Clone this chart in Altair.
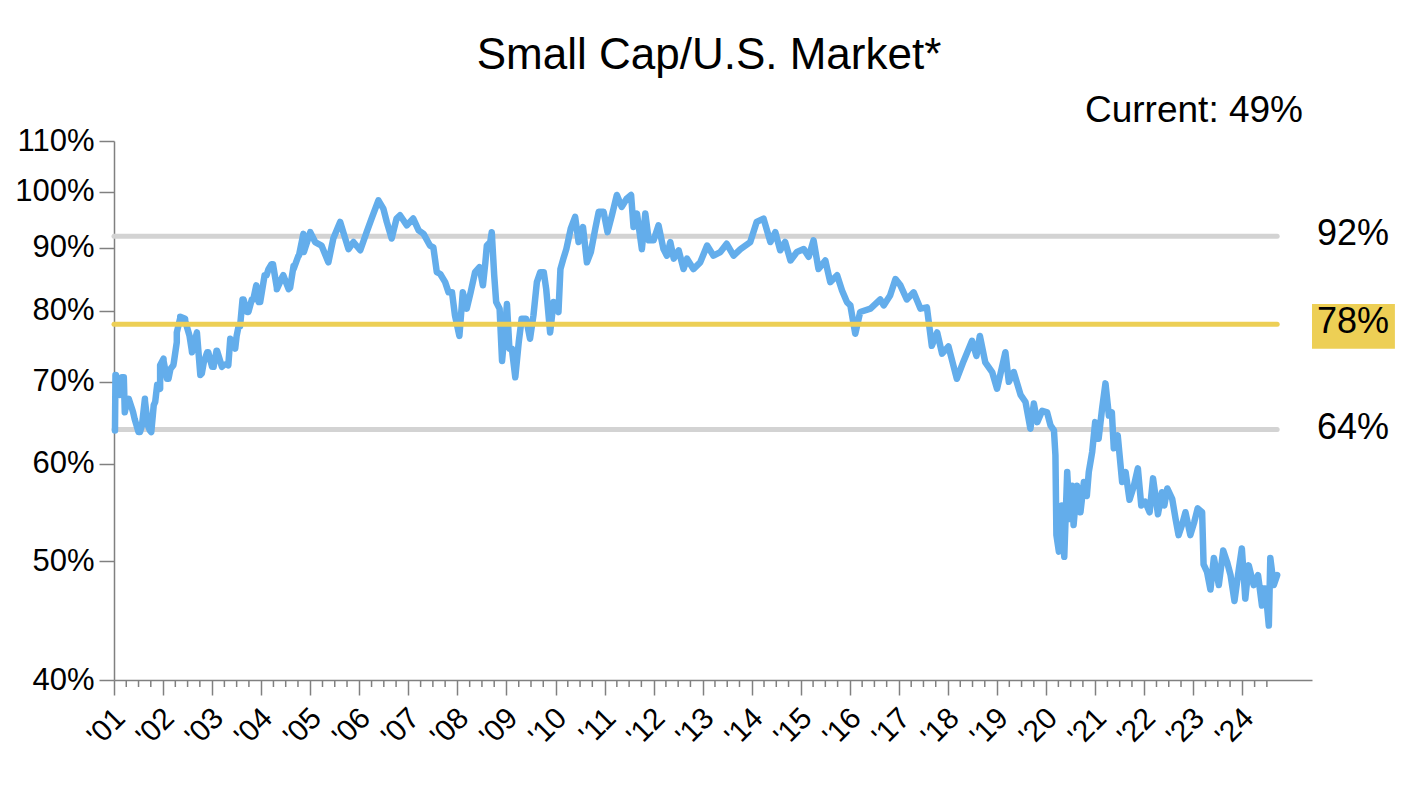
import altair as alt
import pandas as pd

TITLE = "Small Cap/U.S. Market*"
CURRENT_LABEL = "Current: 49%"

# ---- series readings (decimal year, ratio in %), several passes over the picture ----
years_a = [2001.02, 2001.04, 2001.12, 2001.20, 2001.26, 2001.39, 2001.53, 2001.63, 2001.73, 2001.84,
           2001.94, 2002.01, 2002.11, 2002.21, 2002.28, 2002.35, 2002.45, 2002.58, 2002.69, 2002.79,
           2002.92, 2003.03, 2003.09, 2003.23, 2003.33, 2003.37, 2003.50, 2003.57, 2003.64, 2003.74,
           2003.84, 2003.91, 2003.98, 2004.11, 2004.21, 2004.32, 2004.45, 2004.59, 2004.66, 2004.76,
           2004.86, 2005.00, 2005.10, 2005.23, 2005.37, 2005.47, 2005.61, 2005.78, 2005.88, 2006.02,
           2006.15, 2006.25, 2006.39, 2006.49, 2006.56, 2006.66, 2006.76, 2006.83, 2006.97, 2007.10,
           2007.21, 2007.31, 2007.44, 2007.51, 2007.58]
ratio_a = [63.9, 70.9, 68.3, 70.6, 67.4, 66.1, 63.7, 67.8, 63.9, 67.4,
           69.1, 73.1, 70.4, 72.2, 75.4, 78.9, 78.8, 74.5, 76.8, 71.1,
           74.0, 72.0, 74.2, 72.2, 72.2, 75.9, 76.3, 77.7, 81.7, 79.8,
           81.7, 83.5, 81.3, 85.5, 87.3, 83.5, 85.5, 83.5, 87.0, 88.7,
           92.4, 92.7, 91.0, 90.4, 87.6, 91.6, 94.5, 89.8, 91.0, 89.6,
           92.7, 95.1, 98.4, 96.9, 94.5, 91.6, 95.1, 95.7, 93.9, 95.1,
           93.0, 92.4, 90.4, 90.1, 86.0]

years_e = [2001.03, 2001.10, 2001.16, 2001.22, 2001.30, 2001.37, 2001.42, 2001.50, 2001.57, 2001.63,
           2001.69, 2001.76, 2001.81, 2001.88, 2001.94, 2002.01, 2002.08, 2002.15, 2002.22, 2002.28,
           2002.35, 2002.45, 2002.54, 2002.59, 2002.69, 2002.76, 2002.83, 2002.90, 2003.00, 2003.10,
           2003.20, 2003.30, 2003.37, 2003.47, 2003.54, 2003.62, 2003.71, 2003.81, 2003.90, 2003.95,
           2004.07, 2004.15, 2004.24, 2004.32, 2004.43, 2004.56, 2004.66, 2004.77, 2004.87]
ratio_e = [70.9, 68.7, 70.6, 66.1, 67.8, 66.5, 65.3, 63.7, 64.5, 67.6,
           64.5, 63.7, 67.0, 69.6, 72.2, 72.8, 70.4, 71.7, 72.6, 76.8,
           79.1, 78.5, 76.3, 74.0, 76.8, 70.9, 72.6, 74.0, 72.0, 74.2,
           72.0, 72.4, 75.9, 74.5, 77.7, 81.7, 79.8, 81.7, 83.9, 81.3,
           85.5, 86.5, 87.3, 83.3, 85.2, 83.3, 86.5, 88.7, 89.3]

years_f = [2007.65, 2007.75, 2007.82, 2007.89, 2007.95, 2008.04, 2008.11, 2008.19, 2008.27, 2008.36,
           2008.45, 2008.52, 2008.57, 2008.60, 2008.67, 2008.70, 2008.75, 2008.79, 2008.86, 2008.91,
           2008.97, 2009.01, 2009.06, 2009.11, 2009.18, 2009.25, 2009.31, 2009.40, 2009.48, 2009.55,
           2009.62, 2009.69, 2009.76, 2009.81, 2009.89, 2009.96, 2010.06, 2010.10, 2010.16, 2010.22,
           2010.31, 2010.40, 2010.47, 2010.56, 2010.64, 2010.72, 2010.81, 2010.88, 2010.98, 2011.06,
           2011.15, 2011.25, 2011.35, 2011.45, 2011.54, 2011.59, 2011.66, 2011.76, 2011.83, 2011.90,
           2012.00, 2012.10, 2012.20, 2012.27, 2012.34, 2012.41, 2012.51]
ratio_f = [85.7, 84.4, 82.8, 82.8, 79.3, 76.3, 82.8, 80.3, 82.8, 86.0,
           86.8, 83.9, 87.6, 90.4, 91.0, 92.7, 85.5, 81.3, 80.3, 72.8,
           77.3, 81.0, 74.5, 74.5, 70.6, 75.4, 78.8, 78.8, 75.9, 79.3,
           84.4, 86.0, 86.0, 83.3, 76.8, 81.3, 79.8, 86.5, 88.2, 89.8,
           93.3, 95.4, 91.0, 93.6, 87.6, 89.3, 93.3, 96.3, 96.3, 92.7,
           95.7, 99.4, 97.2, 98.7, 99.4, 93.6, 96.0, 89.8, 96.0, 91.3,
           91.3, 93.9, 89.8, 88.7, 91.0, 88.2, 89.6]

years_b = [2012.61, 2012.68, 2012.81, 2012.95, 2013.09,
           2013.22, 2013.36, 2013.49, 2013.63, 2013.77, 2013.97, 2014.10, 2014.24, 2014.38, 2014.48,
           2014.58, 2014.68, 2014.79, 2014.92, 2015.06, 2015.16, 2015.26, 2015.36, 2015.50, 2015.60,
           2015.74, 2015.84, 2015.94, 2016.01, 2016.11, 2016.21, 2016.42, 2016.62, 2016.69, 2016.82,
           2016.93]
ratio_b = [86.5, 88.2, 86.5, 87.6, 90.4,
           88.7, 89.3, 90.7, 88.7, 89.8, 91.0, 94.5, 95.1, 91.0, 92.7,
           89.6, 91.0, 87.9, 89.3, 89.8, 88.5, 91.3, 86.5, 87.9, 84.4,
           85.5, 83.1, 81.3, 80.8, 76.6, 79.8, 80.3, 81.7, 80.8, 82.3,
           84.9]

years_c = [2017.03, 2017.16, 2017.30, 2017.44, 2017.57, 2017.67, 2017.78, 2017.88, 2018.01, 2018.18,
           2018.32, 2018.49, 2018.58, 2018.65, 2018.76, 2018.90, 2019.00, 2019.17, 2019.24, 2019.34,
           2019.48, 2019.58, 2019.68, 2019.75, 2019.82]
ratio_c = [83.9, 81.7, 82.8, 80.3, 80.5, 74.9, 76.8, 73.8, 74.8, 70.4,
           72.8, 75.6, 73.5, 76.3, 72.6, 71.3, 69.1, 74.0, 70.0, 71.3,
           68.3, 67.4, 64.1, 67.2, 64.9]

years_d = [2019.92, 2020.02, 2020.09, 2020.16, 2020.19, 2020.21, 2020.26, 2020.32, 2020.37, 2020.43,
           2020.48, 2020.53, 2020.56, 2020.63, 2020.70, 2020.77, 2020.83, 2020.87, 2020.94, 2021.00,
           2021.07, 2021.14, 2021.21, 2021.28, 2021.34, 2021.38, 2021.46, 2021.55, 2021.62, 2021.70,
           2021.79, 2021.87, 2021.94, 2022.02, 2022.11, 2022.18, 2022.28, 2022.36, 2022.41, 2022.47,
           2022.57, 2022.64, 2022.70, 2022.77, 2022.84, 2022.94, 2023.02, 2023.09, 2023.18, 2023.21,
           2023.28, 2023.35, 2023.42, 2023.52, 2023.61, 2023.69, 2023.76, 2023.84, 2023.93, 2023.99,
           2024.06, 2024.13, 2024.23, 2024.32, 2024.40, 2024.42, 2024.47, 2024.54, 2024.57, 2024.64,
           2024.71]
ratio_d = [66.3, 66.1, 64.5, 63.9, 61.0, 52.5, 50.9, 55.5, 50.4, 59.1,
           54.1, 57.6, 53.5, 57.6, 54.8, 58.0, 56.5, 59.1, 61.4, 64.9,
           62.9, 66.5, 69.8, 65.7, 66.1, 61.8, 63.3, 58.0, 59.1, 56.1,
           57.6, 59.5, 55.5, 55.9, 54.8, 58.4, 54.6, 56.9, 55.5, 57.3,
           56.2, 54.1, 52.5, 53.5, 54.8, 52.5, 53.8, 55.2, 54.8, 49.7,
           49.0, 47.4, 50.3, 47.8, 51.0, 49.9, 48.7, 46.4, 49.3, 51.2,
           46.6, 49.6, 47.8, 48.7, 46.0, 47.5, 47.5, 44.3, 50.3, 47.8,
           48.7]

# ---- reference levels ----
ref_levels = [92, 78, 64]
ref_labels = ["92%", "78%", "64%"]

# ---- axes ----
year_ticks = list(range(2001, 2025))
quarter_ticks = [y + q for y in range(2001, 2025) for q in (0.25, 0.5, 0.75) if y + q <= 2024.5]
y_ticks = [40, 50, 60, 70, 80, 90, 100, 110]

X_DOMAIN = [2001, 2025.42]
Y_DOMAIN = [40, 110]
PLOT_W, PLOT_H = 1198, 539

FONT = "Liberation Sans"
BLUE = "#63ADEB"
YELLOW = "#EDCF55"
GRAY_REF = "#D3D3D3"
AXIS_GRAY = "#808080"

xs = alt.Scale(domain=X_DOMAIN, nice=False, zero=False)
ys = alt.Scale(type="log", domain=Y_DOMAIN, nice=False)
x_axis = alt.Axis(
    values=year_ticks, labelExpr="\"'\" + format(datum.value % 100, '02d')",
    labelAngle=-45, labelAlign="right", labelBaseline="middle", labelOverlap=False,
    labelFontSize=30, labelPadding=18, labelOffset=6, tickSize=15, title=None, grid=False)
y_axis = alt.Axis(
    values=y_ticks, labelExpr="datum.value + '%'", labelFontSize=31, labelOverlap=False,
    labelPadding=5, tickSize=15, title=None, grid=False)


def X(field):
    return alt.X(field, scale=xs, axis=x_axis)


def Y(field):
    return alt.Y(field, scale=ys, axis=y_axis)


series = pd.DataFrame({
    "t": years_a + years_e + years_f + years_b + years_c + years_d,
    "v": ratio_a + ratio_e + ratio_f + ratio_b + ratio_c + ratio_d,
}).sort_values("t", kind="stable").reset_index(drop=True)
data_end = float(series["t"].max())
refs = pd.DataFrame({"level": ref_levels, "label": ref_labels,
                     "start": [X_DOMAIN[0]] * 3, "end": [data_end] * 3,
                     "lx": [X_DOMAIN[1]] * 3})

line = alt.Chart(series).mark_line(
    color=BLUE, strokeWidth=6.5, strokeJoin="round", strokeCap="round"
).encode(x=X("t:Q"), y=Y("v:Q"), order="t:Q")

gray_rules = alt.Chart(refs[refs.level != 78]).mark_rule(
    color=GRAY_REF, strokeWidth=5, strokeCap="round"
).encode(x=X("start:Q"), x2="end:Q", y=Y("level:Q"))

yellow_rule = alt.Chart(refs[refs.level == 78]).mark_rule(
    color=YELLOW, strokeWidth=5, strokeCap="round"
).encode(x=X("start:Q"), x2="end:Q", y=Y("level:Q"))

box = alt.Chart(refs[refs.level == 78]).transform_calculate(
    bx2="datum.lx + 1.69", lo="74.5", hi="81.0"
).mark_rect(color=YELLOW).encode(
    x=X("lx:Q"), x2="bx2:Q", y=Y("lo:Q"), y2="hi:Q",
)

labels = alt.Chart(refs).mark_text(
    align="left", baseline="alphabetic", dx=5, dy=9, fontSize=36, font=FONT, color="black"
).encode(x=X("lx:Q"), y=Y("level:Q"), text="label:N")

current = alt.Chart(pd.DataFrame({"x": [X_DOMAIN[1]], "y": [Y_DOMAIN[1]], "txt": [CURRENT_LABEL]})).mark_text(
    align="right", baseline="alphabetic", dx=-9, dy=-19, fontSize=37, font=FONT, color="black"
).encode(x=X("x:Q"), y=Y("y:Q"), text="txt:N")

minor = alt.Chart(pd.DataFrame({"t": quarter_ticks})).mark_rule(
    color=AXIS_GRAY, strokeWidth=1.5
).encode(x=X("t:Q"), y=alt.value(PLOT_H), y2=alt.value(PLOT_H + 7))

chart = alt.layer(gray_rules, line, yellow_rule, box, labels, current, minor).properties(
    width=PLOT_W, height=PLOT_H,
    title=alt.TitleParams(TITLE, fontSize=44, font=FONT, fontWeight="normal",
                          color="black", anchor="middle", offset=14, dx=-4),
    padding={"left": 6, "top": 26, "right": 5, "bottom": 5},
).configure_view(stroke=None).configure_axis(
    labelFont=FONT, labelColor="black", domainColor=AXIS_GRAY, tickColor=AXIS_GRAY,
    domainWidth=1.5, tickWidth=1.5,
)

chart.save("out.html", embed_options={"renderer": "svg", "actions": False})
